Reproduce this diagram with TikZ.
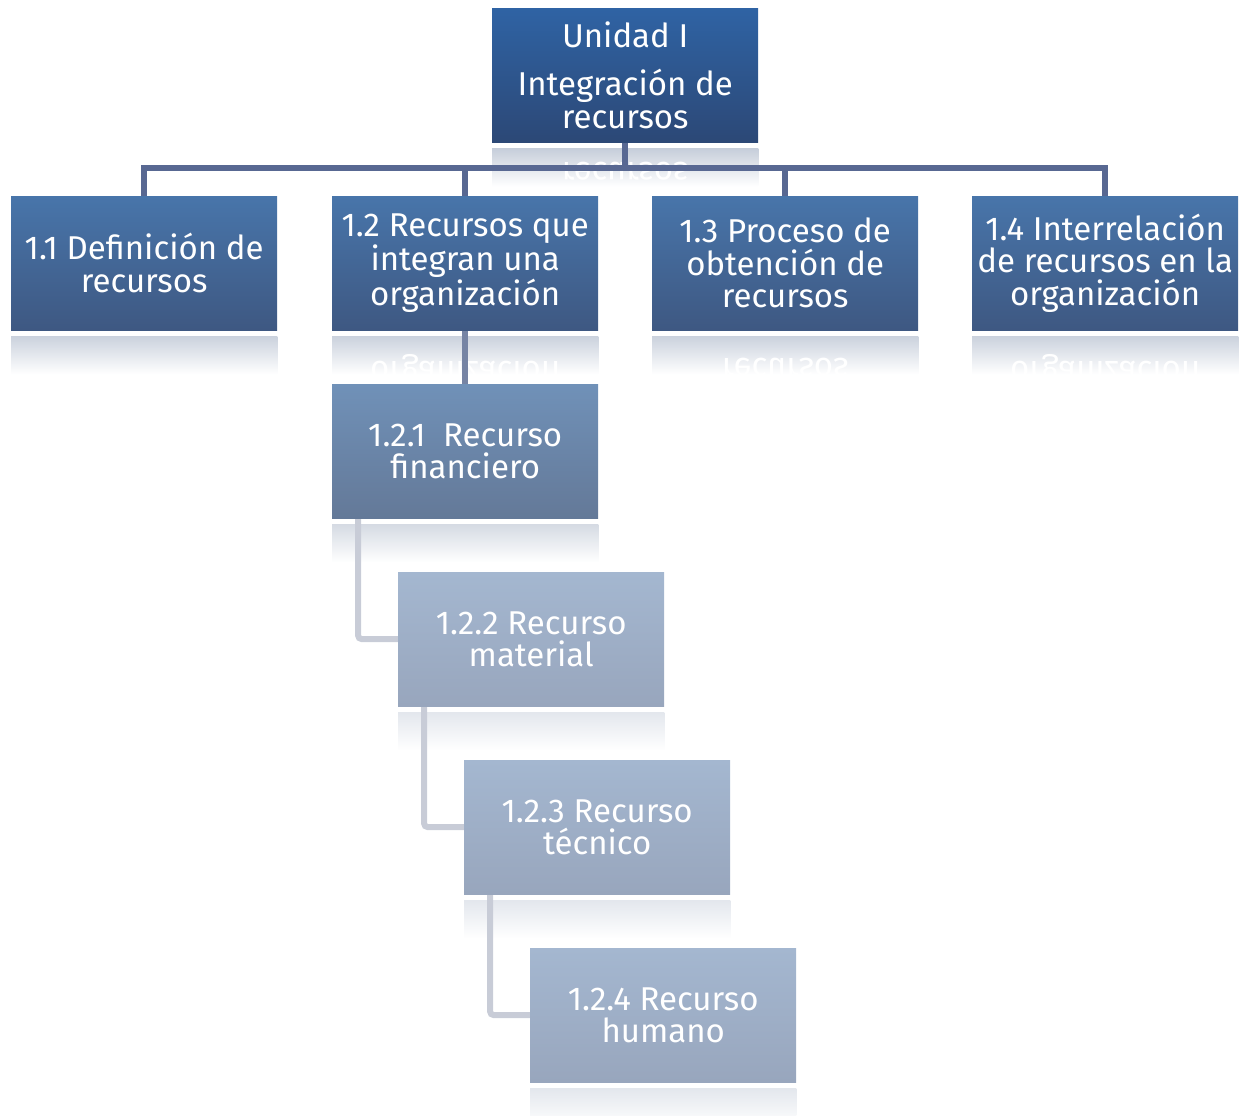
\documentclass[tikz,border=0pt]{standalone}
\usepackage{fontspec}
\setmainfont{Fira Sans}
\usetikzlibrary{calc,backgrounds}
\definecolor{topA}{RGB}{47,99,164}
\definecolor{topB}{RGB}{44,72,118}
\definecolor{lA}{RGB}{72,117,170}
\definecolor{lB}{RGB}{62,88,130}
\definecolor{mA}{RGB}{112,145,184}
\definecolor{mB}{RGB}{100,121,152}
\definecolor{sA}{RGB}{164,183,208}
\definecolor{sB}{RGB}{152,166,189}
\definecolor{busline}{RGB}{88,104,146}
\definecolor{midline}{RGB}{118,132,164}
\definecolor{lightline}{RGB}{200,204,215}
\tikzset{
  boxtext/.style={inner sep=0pt, align=center, text=white,
    font=\fontsize{33}{32.5}\selectfont},
  basebox/.style={boxtext, anchor=north west, minimum width=266pt, minimum height=134pt},
  topbox/.style={basebox, top color=topA, bottom color=topB},
  lonebox/.style={basebox, top color=lA, bottom color=lB},
  mbox/.style={basebox, top color=mA, bottom color=mB},
  sbox/.style={basebox, top color=sA, bottom color=sB},
  bus/.style={draw=busline, line width=6pt},
  midconn/.style={draw=midline, line width=6pt},
  lightconn/.style={draw=lightline, line width=6pt, rounded corners=4pt},
}
\newcommand\myrefl[3]{%
  \fill[top color=#2!27!white, bottom color=white]
    ([yshift=-6pt]#1.south west) rectangle ([yshift=-44pt]#1.south east);
  \begin{scope}
    \clip ([yshift=-6pt]#1.south west) rectangle ([yshift=-44pt]#1.south east);
    \node[boxtext, yscale=-1, text=white] at ($(#1.center)!2!([yshift=-3pt]#1.south)$) {#3};
  \end{scope}}
\newcommand\myreflplain[2]{%
  \fill[top color=#2!27!white, bottom color=white]
    ([yshift=-6pt]#1.south west) rectangle ([yshift=-44pt]#1.south east);}
\begin{document}
\begin{tikzpicture}[x=1pt,y=-1pt]
\useasboundingbox (0,0) rectangle (1245,1116);
\node[topbox] (top) at (492,8) {Unidad I\\[16pt]Integración de\\recursos};
\node[lonebox] (b1) at (11,196) {1.1 Definición de\\recursos};
\node[lonebox] (b2) at (332,196) {1.2 Recursos que\\integran una\\organización};
\node[lonebox] (b3) at (652,196) {1.3 Proceso de\\obtención de\\recursos};
\node[lonebox] (b4) at (972,196) {1.4 Interrelación\\de recursos en la\\organización};
\node[mbox] (c1) at (332,384) {1.2.1~~Recurso\\financiero};
\node[sbox] (c2) at (398,572) {1.2.2 Recurso\\material};
\node[sbox] (c3) at (464,760) {1.2.3 Recurso\\técnico};
\node[sbox] (c4) at (530,948) {1.2.4 Recurso\\humano};
\begin{scope}[on background layer]
  \myrefl{top}{topB}{Unidad I\\[16pt]Integración de\\recursos}
  \myreflplain{b1}{lB}
  \myrefl{b2}{lB}{1.2 Recursos que\\integran una\\organización}
  \myrefl{b3}{lB}{1.3 Proceso de\\obtención de\\recursos}
  \myrefl{b4}{lB}{1.4 Interrelación\\de recursos en la\\organización}
  \myreflplain{c1}{mB}
  \myreflplain{c2}{sB}
  \myreflplain{c3}{sB}
  \myreflplain{c4}{sB}
  \draw[bus] (top.south) -- ++(0,26) coordinate (busc);
  \draw[bus] (busc) -| (b1.north);
  \draw[bus] (busc) -| (b2.north);
  \draw[bus] (busc) -| (b3.north);
  \draw[bus] (busc) -| (b4.north);
  \draw[midconn] (b2.south) -- (c1.north);
  \draw[lightconn] ([xshift=26pt]c1.south west) |- (c2.west);
  \draw[lightconn] ([xshift=26pt]c2.south west) |- (c3.west);
  \draw[lightconn] ([xshift=26pt]c3.south west) |- (c4.west);
\end{scope}
\end{tikzpicture}
\end{document}
